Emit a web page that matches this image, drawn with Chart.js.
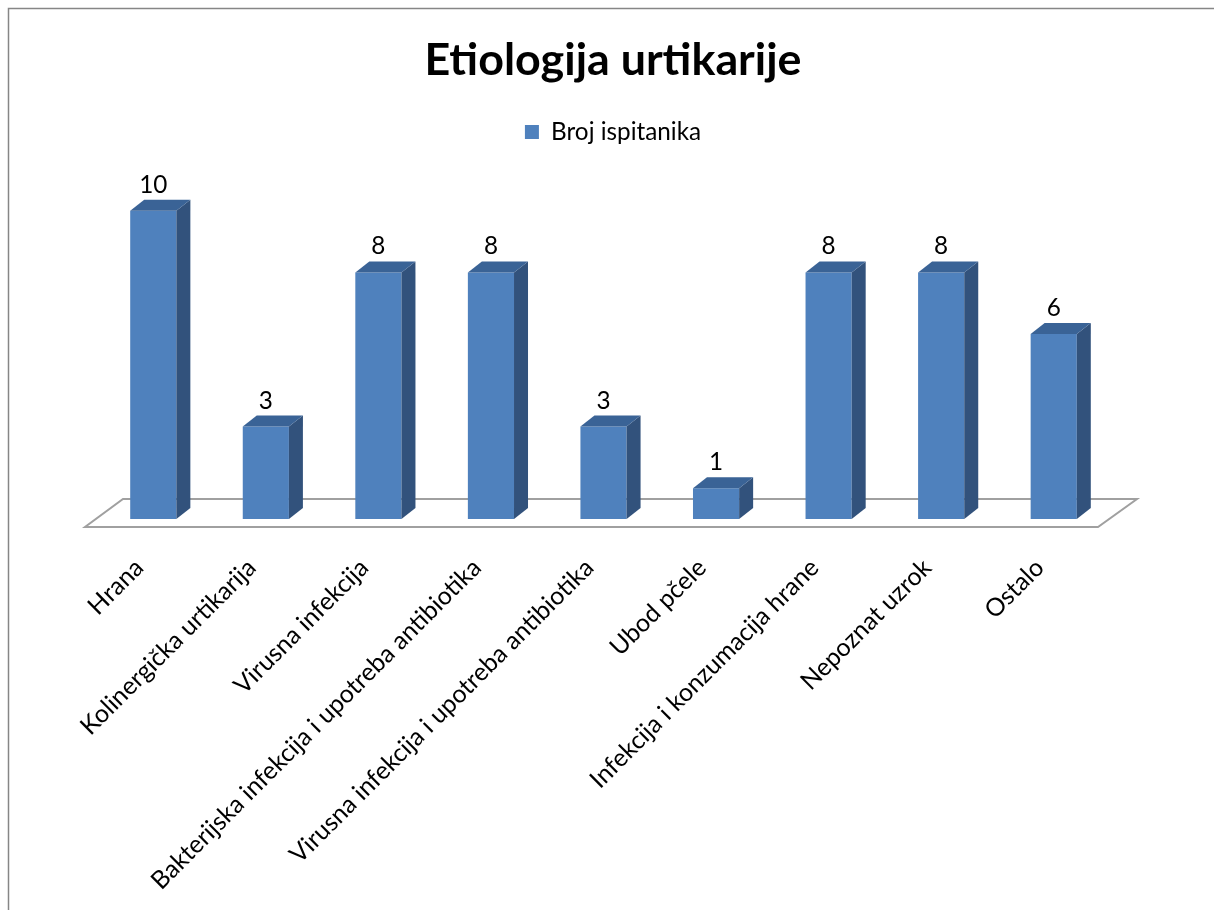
<!DOCTYPE html>
<html lang="hr">
<head>
<meta charset="UTF-8">
<title>Etiologija urtikarije</title>
<style>
    body { margin: 0; background: #fff; }
    canvas { display: block; }
</style>
</head>
<body>
<canvas id="chart" width="1214" height="910"></canvas>
<script src="https://cdn.jsdelivr.net/npm/chart.js"></script>
<script>
    const categories = [
        'Hrana',
        'Kolinergička urtikarija',
        'Virusna infekcija',
        'Bakterijska infekcija i upotreba antibiotika',
        'Virusna infekcija i upotreba antibiotika',
        'Ubod pčele',
        'Infekcija i konzumacija hrane',
        'Nepoznat uzrok',
        'Ostalo'
    ];
    const counts = [10, 3, 8, 8, 3, 1, 8, 8, 6];
    const seriesName = 'Broj ispitanika';
    const chartTitle = 'Etiologija urtikarije';

    const FONT = 'Lato, "Open Sans", sans-serif';
    const DX = 14, DY = 11; // bar depth

    // pick a font size so a text gets roughly the width it has in the original
    function fitSize(text, weight, target) {
        const c = document.createElement('canvas').getContext('2d');
        c.font = weight + ' 100px ' + FONT;
        return Math.round(1000 * target / c.measureText(text).width) / 10;
    }
    const titleSize = fitSize(chartTitle, 'bold', 377);
    const legendSize = fitSize(seriesName, 'normal', 150);
    const tickSize = fitSize(categories[3], 'normal', 455);

    const frame = {
        id: 'frame',
        beforeDraw(chart) {
            const ctx = chart.ctx;
            ctx.save();
            ctx.fillStyle = '#fff';
            ctx.fillRect(0, 0, chart.width, chart.height);
            ctx.strokeStyle = '#868686';
            ctx.lineWidth = 1.5;
            ctx.beginPath();
            ctx.moveTo(8.5, chart.height);
            ctx.lineTo(8.5, 8.5);
            ctx.lineTo(chart.width, 8.5);
            ctx.stroke();
            ctx.restore();
        }
    };

    const floor = {
        id: 'floor',
        beforeDatasetsDraw(chart) {
            const a = chart.chartArea, ctx = chart.ctx;
            ctx.save();
            ctx.strokeStyle = '#a0a0a0';
            ctx.lineWidth = 2;
            ctx.beginPath();
            ctx.moveTo(a.left - 12, a.bottom + 8);
            ctx.lineTo(a.right - 12, a.bottom + 8);
            ctx.lineTo(a.right + 27, a.bottom - 20);
            ctx.lineTo(a.left + 26, a.bottom - 20);
            ctx.closePath();
            ctx.stroke();
            ctx.restore();
        }
    };

    const bars3d = {
        id: 'bars3d',
        afterDatasetsDraw(chart) {
            const ctx = chart.ctx;
            const meta = chart.getDatasetMeta(0);
            ctx.save();
            meta.data.forEach((bar, i) => {
                const l = bar.x - bar.width / 2, r = bar.x + bar.width / 2;
                const t = bar.y, b = bar.base;
                // side
                ctx.fillStyle = '#32527c';
                ctx.beginPath();
                ctx.moveTo(r, t);
                ctx.lineTo(r + DX, t - DY);
                ctx.lineTo(r + DX, b - DY);
                ctx.lineTo(r, b);
                ctx.closePath();
                ctx.fill();
                // top
                ctx.fillStyle = '#3a6396';
                ctx.beginPath();
                ctx.moveTo(l, t);
                ctx.lineTo(l + DX, t - DY);
                ctx.lineTo(r + DX, t - DY);
                ctx.lineTo(r, t);
                ctx.closePath();
                ctx.fill();
                // value
                ctx.fillStyle = '#000';
                ctx.font = legendSize + 'px ' + FONT;
                ctx.textAlign = 'center';
                ctx.textBaseline = 'alphabetic';
                ctx.fillText(String(counts[i]), bar.x, t - DY - 7);
            });
            ctx.restore();
        }
    };

    new Chart(document.getElementById('chart'), {
        type: 'bar',
        data: {
            labels: categories,
            datasets: [{
                label: seriesName,
                data: counts,
                backgroundColor: '#4f81bd',
                borderWidth: 0,
                categoryPercentage: 1,
                barPercentage: 0.41
            }]
        },
        options: {
            responsive: false,
            animation: false,
            devicePixelRatio: 1,
            layout: { padding: { top: 8, left: 97, right: 85, bottom: 0 } },
            plugins: {
                title: {
                    display: true,
                    text: chartTitle,
                    color: '#000',
                    font: { family: FONT, size: titleSize, weight: 'bold' },
                    padding: { top: 26, bottom: 20 }
                },
                legend: {
                    display: true,
                    position: 'top',
                    labels: {
                        color: '#000',
                        boxWidth: 14,
                        boxHeight: 14,
                        padding: 12,
                        font: { family: FONT, size: legendSize }
                    }
                },
                tooltip: { enabled: false }
            },
            scales: {
                x: {
                    grid: { display: false, drawTicks: false },
                    border: { display: false },
                    ticks: {
                        autoSkip: false,
                        minRotation: 45,
                        maxRotation: 45,
                        padding: 34,
                        labelOffset: -14,
                        color: '#000',
                        font: { family: FONT, size: tickSize }
                    },
                    afterFit(scale) { scale.height = 391; }
                },
                // empty spacer between the legend and the bars
                gap: {
                    type: 'category',
                    position: 'top',
                    grid: { display: false },
                    border: { display: false },
                    ticks: { display: false },
                    afterFit(scale) { scale.height = 26; }
                },
                y: {
                    position: 'right',
                    min: 0,
                    max: 11,
                    grid: { display: false },
                    border: { display: false },
                    ticks: { display: false },
                    afterFit(scale) { scale.width = 19; }
                }
            }
        },
        plugins: [frame, floor, bars3d]
    });
</script>
</body>
</html>
